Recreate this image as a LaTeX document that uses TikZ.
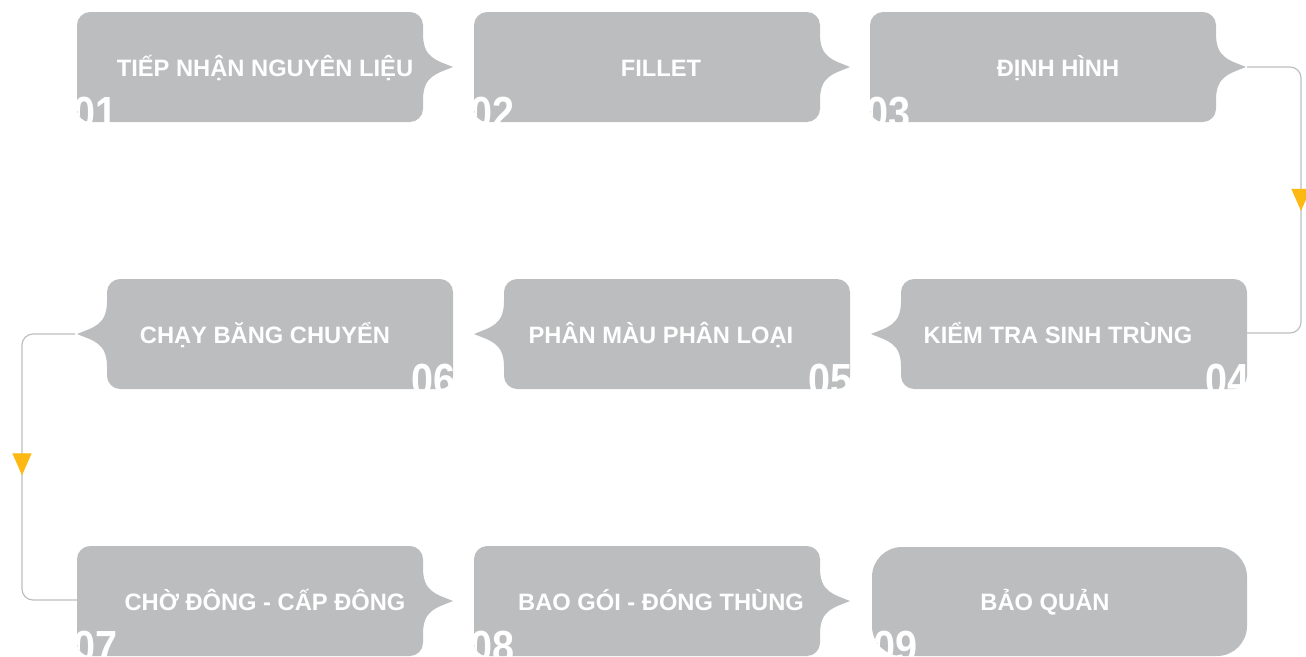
\documentclass[tikz,border=0pt]{standalone}
\usepackage{fontspec}
\setmainfont{Liberation Sans}
\usepackage{graphicx}
\usetikzlibrary{arrows.meta,decorations.markings}
\definecolor{boxgray}{HTML}{BCBDBF}
\definecolor{linegray}{HTML}{BDBEC0}
\definecolor{arrowyel}{HTML}{FDB913}
\newcommand\bumpshape{(0,13) .. controls (0,6) and (6,0) .. (13,0) -- (333,0) .. controls (340,0) and (346,6) .. (346,13) -- (346,22) .. controls (346,46) and (359,48) .. (376,55) .. controls (359,62) and (346,64) .. (346,88) -- (346,97) .. controls (346,104) and (340,110) .. (333,110) -- (13,110) .. controls (6,110) and (0,104) .. (0,97) -- cycle}
\begin{document}
\begin{tikzpicture}[x=1pt,y=-1pt,
  steptext/.style={text=white,font=\fontsize{23.7}{27}\selectfont\bfseries,inner sep=0pt,anchor=base},
  stepnum/.style={text=white,font=\fontsize{45}{48}\selectfont\bfseries,inner sep=0pt},
  conn/.style={draw=linegray,line width=1.2pt,rounded corners=11pt},
  midarrow/.style={postaction={decorate},decoration={markings,mark=at position #1 with {\arrow{Triangle[width=19pt,length=22pt,color=arrowyel]}}}}]
\useasboundingbox (0,0) rectangle (1306,656);
% row 1 (bump right)
\foreach \bx/\nm/\nx in {77/01/73,474/02/470,870/03/866}{
  \fill[boxgray,shift={(\bx,12)}] \bumpshape;
  \begin{scope}
    \clip[shift={(\bx,12)}] \bumpshape;
    \node[stepnum,anchor=base west] (n\nm) at (\nx,128) {\scalebox{0.88}[1]{\nm}};
  \end{scope}
}
% row 2 (bump left)
\foreach \bx/\nm/\nx in {453/06/411,850/05/808,1247/04/1205}{
  \fill[boxgray,shift={(\bx,279)},xscale=-1] \bumpshape;
  \begin{scope}
    \clip[shift={(\bx,279)},xscale=-1] \bumpshape;
    \node[stepnum,anchor=base west] (n\nm) at (\nx,395) {\scalebox{0.88}[1]{\nm}};
  \end{scope}
}
% row 3
\foreach \bx/\nm/\nx in {77/07/73,474/08/470}{
  \fill[boxgray,shift={(\bx,546)}] \bumpshape;
  \begin{scope}
    \clip[shift={(\bx,546)}] \bumpshape;
    \node[stepnum,anchor=base west] (n\nm) at (\nx,662) {\scalebox{0.88}[1]{\nm}};
  \end{scope}
}
\fill[boxgray,rounded corners=30pt] (872,547) rectangle (1247,656);
\begin{scope}
  \clip[rounded corners=30pt] (872,547) rectangle (1247,656);
  \node[stepnum,anchor=base west] (n09) at (873,662) {\scalebox{0.88}[1]{09}};
\end{scope}
% labels
\node[steptext] (s1) at (265,76) {TIẾP NHẬN NGUYÊN LIỆU};
\node[steptext] (s2) at (661,76) {FILLET};
\node[steptext] (s3) at (1058,76) {ĐỊNH HÌNH};
\node[steptext] (s4) at (1058,343) {KIỂM TRA SINH TRÙNG};
\node[steptext] (s5) at (661,343) {PHÂN MÀU PHÂN LOẠI};
\node[steptext] (s6) at (265,343) {CHẠY BĂNG CHUYỂN};
\node[steptext] (s7) at (265,610) {CHỜ ĐÔNG - CẤP ĐÔNG};
\node[steptext] (s8) at (661,610) {BAO GÓI - ĐÓNG THÙNG};
\node[steptext] (s9) at (1045,610) {BẢO QUẢN};
% connectors
\coordinate (tip3) at (1247,67);
\coordinate (in4) at (1247,333);
\coordinate (tip6) at (75,334);
\coordinate (in7) at (77,600);
\draw[conn,midarrow=0.53] (tip3) -| ([xshift=54pt]in4) -- (in4);
\draw[conn,midarrow=0.52] (tip6) -| ([xshift=-55pt]in7) -- (in7);
\end{tikzpicture}
\end{document}
